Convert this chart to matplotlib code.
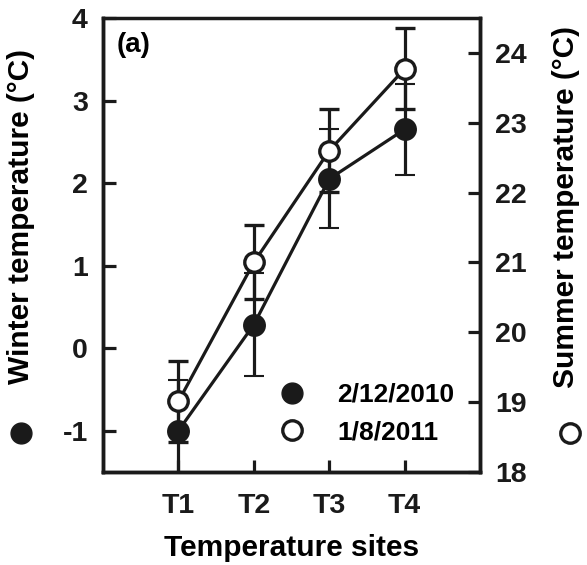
import matplotlib
matplotlib.use("Agg")
import matplotlib.pyplot as plt
from matplotlib.lines import Line2D

plt.rcParams['font.family'] = ['Liberation Sans', 'DejaVu Sans']
plt.rcParams['font.weight'] = 'bold'
plt.rcParams['axes.unicode_minus'] = False

sites = ["T1", "T2", "T3", "T4"]
winter = [-1.0, 0.285, 2.05, 2.65]
winter_err = [0.61, 0.62, 0.6, 0.55]
summer = [19.01, 21.0, 22.6, 23.77]
summer_err = [0.58, 0.53, 0.59, 0.58]
winter_label = "2/12/2010"
summer_label = "1/8/2011"

x = list(range(1, len(sites) + 1))
dark = '#1a1a1a'

fig = plt.figure(figsize=(5.87, 5.65), dpi=100)
ax = fig.add_axes([103/587, 1-472/565, (480-103)/587, (472-18)/565])
ax2 = ax.twinx()

lw = 2.3
ax.errorbar(x, winter, yerr=winter_err, fmt='o', color=dark, ecolor=dark,
            ms=15, mfc=dark, mec=dark, mew=1.5, elinewidth=lw, capsize=7.5,
            capthick=lw, ls='-', lw=lw, zorder=3)
ax2.errorbar(x, summer, yerr=summer_err, fmt='o', color=dark, ecolor=dark,
             ms=14, mfc='white', mec=dark, mew=2.4, elinewidth=lw, capsize=7.5,
             capthick=lw, ls='-', lw=lw, zorder=3)

ax.set_xlim(0, 5)
ax.set_ylim(-1.5, 4)
ax2.set_ylim(18, 24.5)
ax.set_xticks(x)
ax.set_xticklabels(sites)
ax.set_yticks([-1, 0, 1, 2, 3, 4])
ax2.set_yticks([18, 19, 20, 21, 22, 23, 24])

for a in (ax, ax2):
    for s in a.spines.values():
        s.set_linewidth(2.5)
        s.set_color(dark)
    a.tick_params(direction='in', length=9, width=2.3, labelsize=20.5, colors=dark, pad=11)
ax2.spines['top'].set_visible(False)
ax.tick_params(axis='x', top=False, pad=15)
ax.tick_params(axis='y', right=False)

ax.set_xlabel("Temperature sites", fontsize=21.5, fontweight='bold', labelpad=11)
ax.set_ylabel("Winter temperature (\u00B0C)", fontsize=21.5, fontweight='bold',
              va='center', ha='center')
ax.yaxis.set_label_coords((21 - 103) / 377, (472 - 216.5) / 454)
ax2.set_ylabel("Summer temperature (\u00B0C)", fontsize=21.5, fontweight='bold',
               rotation=90, va='center', ha='center')
ax2.yaxis.set_label_coords((566 - 103) / 377, (472 - 207) / 454)

# symbols beside the axis titles
fig.add_artist(Line2D([20.7 / 587], [1 - 433 / 565], transform=fig.transFigure,
                      marker='o', ls='none', ms=15, mfc=dark, mec=dark))
fig.add_artist(Line2D([570 / 587], [1 - 433 / 565], transform=fig.transFigure,
                      marker='o', ls='none', ms=14, mfc='white', mec=dark, mew=2.4))

ax.text((117 - 103) / 377, 1 - 14 / 454, "(a)", transform=ax.transAxes, fontsize=20,
        fontweight='bold', va='top')

handles = [
    Line2D([], [], marker='o', ls='none', ms=15, mfc=dark, mec=dark),
    Line2D([], [], marker='o', ls='none', ms=14, mfc='white', mec=dark, mew=2.4),
]
ax.legend(handles, [winter_label, summer_label], loc='upper left',
          bbox_to_anchor=(279/587, 1-383/565), bbox_transform=fig.transFigure,
          frameon=False, fontsize=19, handlelength=1.0, handletextpad=1.2,
          labelspacing=0.5, borderpad=0, borderaxespad=0)

fig.savefig("out.png", dpi=100)
